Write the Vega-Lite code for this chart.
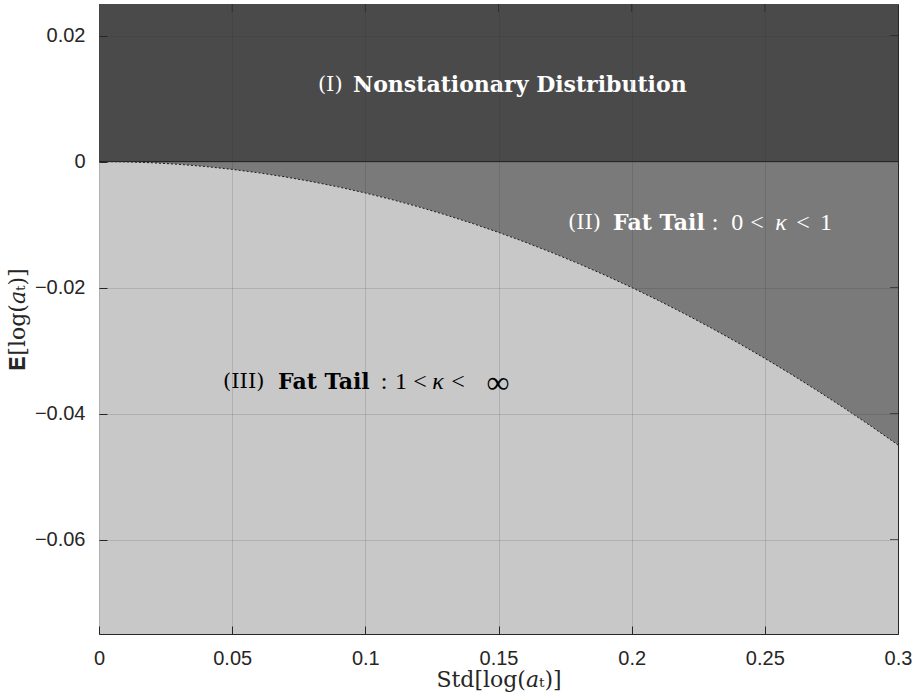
{
  "$schema": "https://vega.github.io/schema/vega-lite/v6.json",
  "width": 799,
  "height": 630,
  "autosize": "none",
  "padding": {"left": 99, "top": 4, "right": 19, "bottom": 64},
  "background": "white",
  "config": {
    "view": {"stroke": "#262626", "strokeWidth": 1},
    "axis": {
      "labelFont": "Liberation Sans",
      "labelFontSize": 20,
      "labelColor": "#262626",
      "titleFont": "DejaVu Serif",
      "titleFontWeight": "normal",
      "titleFontSize": 22,
      "titleColor": "#262626",
      "domain": false,
      "grid": true,
      "gridColor": "#262626",
      "gridOpacity": 0.15,
      "gridWidth": 1,
      "tickColor": "#262626",
      "tickSize": -8
    }
  },
  "datasets": {
    "boundary": [
      {"s": 0.00, "m": 0},
      {"s": 0.01, "m": -0.00005},
      {"s": 0.02, "m": -0.0002},
      {"s": 0.03, "m": -0.00045},
      {"s": 0.04, "m": -0.0008},
      {"s": 0.05, "m": -0.00125},
      {"s": 0.06, "m": -0.0018},
      {"s": 0.07, "m": -0.00245},
      {"s": 0.08, "m": -0.0032},
      {"s": 0.09, "m": -0.00405},
      {"s": 0.10, "m": -0.005},
      {"s": 0.11, "m": -0.00605},
      {"s": 0.12, "m": -0.0072},
      {"s": 0.13, "m": -0.00845},
      {"s": 0.14, "m": -0.0098},
      {"s": 0.15, "m": -0.01125},
      {"s": 0.16, "m": -0.0128},
      {"s": 0.17, "m": -0.01445},
      {"s": 0.18, "m": -0.0162},
      {"s": 0.19, "m": -0.01805},
      {"s": 0.20, "m": -0.02},
      {"s": 0.21, "m": -0.02205},
      {"s": 0.22, "m": -0.0242},
      {"s": 0.23, "m": -0.02645},
      {"s": 0.24, "m": -0.0288},
      {"s": 0.25, "m": -0.03125},
      {"s": 0.26, "m": -0.0338},
      {"s": 0.27, "m": -0.03645},
      {"s": 0.28, "m": -0.0392},
      {"s": 0.29, "m": -0.04205},
      {"s": 0.30, "m": -0.045}
    ],
    "romanText": [
      {"s": 0.0822, "m": 0.0121, "text": "(I)", "shade": "light"},
      {"s": 0.1761, "m": -0.0098, "text": "(II)", "shade": "light"},
      {"s": 0.0466, "m": -0.0350, "text": "(III)", "shade": "dark"}
    ],
    "mathText": [
      {"s": 0.2313, "m": -0.0098, "text": ":", "shade": "light"},
      {"s": 0.2396, "m": -0.0098, "text": "0", "shade": "light"},
      {"s": 0.2471, "m": -0.0098, "text": "<", "shade": "light"},
      {"s": 0.2643, "m": -0.0098, "text": "<", "shade": "light"},
      {"s": 0.2730, "m": -0.0098, "text": "1", "shade": "light"},
      {"s": 0.1070, "m": -0.0350, "text": ":", "shade": "dark"},
      {"s": 0.1134, "m": -0.0350, "text": "1", "shade": "dark"},
      {"s": 0.1205, "m": -0.0350, "text": "<", "shade": "dark"},
      {"s": 0.1348, "m": -0.0350, "text": "<", "shade": "dark"}
    ],
    "infinityText": [
      {"s": 0.1498, "m": -0.0350, "text": "∞", "shade": "dark"}
    ],
    "italicText": [
      {"s": 0.2561, "m": -0.0098, "text": "κ", "shade": "light"},
      {"s": 0.1273, "m": -0.0350, "text": "κ", "shade": "dark"}
    ],
    "boldText": [
      {"s": 0.0954, "m": 0.0121, "text": "Nonstationary Distribution", "shade": "light"},
      {"s": 0.1930, "m": -0.0098, "text": "Fat Tail", "shade": "light"},
      {"s": 0.0672, "m": -0.0350, "text": "Fat Tail", "shade": "dark"}
    ],
    "rightTicks": [
      {"s": 0.3, "m": -0.06},
      {"s": 0.3, "m": -0.04},
      {"s": 0.3, "m": -0.02},
      {"s": 0.3, "m": 0},
      {"s": 0.3, "m": 0.02}
    ],
    "topTicks": [
      {"s": 0.05, "m": 0.025},
      {"s": 0.10, "m": 0.025},
      {"s": 0.15, "m": 0.025},
      {"s": 0.20, "m": 0.025},
      {"s": 0.25, "m": 0.025}
    ]
  },
  "layer": [
    {
      "data": {"name": "boundary"},
      "mark": {"type": "area", "color": "#c8c8c8", "clip": true},
      "encoding": {
        "x": {
          "field": "s", "type": "quantitative",
          "scale": {"domain": [0, 0.3], "nice": false},
          "axis": {
            "title": "Std[log(𝑎ₜ)]",
            "values": [0, 0.05, 0.1, 0.15, 0.2, 0.25, 0.3],
            "format": ".2~f",
            "labelPadding": 22,
            "titlePadding": 1,
            "labelFlush": false,
            "grid": true,
            "zindex": 1
          }
        },
        "y": {
          "field": "m", "type": "quantitative",
          "scale": {"domain": [-0.075, 0.025], "nice": false, "zero": false},
          "axis": {
            "title": "𝐄[log(𝑎ₜ)]",
            "values": [-0.06, -0.04, -0.02, 0, 0.02],
            "format": ".2~f",
            "labelPadding": 22,
            "titlePadding": 5,
            "grid": true,
            "zindex": 1
          }
        },
        "y2": {"datum": -0.075}
      }
    },
    {
      "data": {"name": "boundary"},
      "mark": {"type": "area", "color": "#7a7a7a", "clip": true},
      "encoding": {
        "x": {"field": "s", "type": "quantitative"},
        "y": {"field": "m", "type": "quantitative"},
        "y2": {"datum": 0}
      }
    },
    {
      "data": {"name": "boundary"},
      "mark": {"type": "area", "color": "#4a4a4a", "clip": true},
      "encoding": {
        "x": {"field": "s", "type": "quantitative"},
        "y": {"datum": 0},
        "y2": {"datum": 0.025}
      }
    },
    {
      "data": {"name": "boundary"},
      "mark": {"type": "line", "color": "#1a1a1a", "strokeWidth": 1, "strokeDash": [2, 2], "clip": true},
      "encoding": {
        "x": {"field": "s", "type": "quantitative"},
        "y": {"field": "m", "type": "quantitative"}
      }
    },
    {
      "data": {"name": "boundary"},
      "mark": {"type": "rule", "color": "#262626", "strokeWidth": 1},
      "encoding": {
        "y": {"datum": 0}
      }
    },
    {
      "data": {"name": "rightTicks"},
      "mark": {"type": "tick", "orient": "horizontal", "color": "#262626", "size": 16, "thickness": 1, "clip": true},
      "encoding": {
        "x": {"field": "s", "type": "quantitative"},
        "y": {"field": "m", "type": "quantitative"}
      }
    },
    {
      "data": {"name": "topTicks"},
      "mark": {"type": "tick", "orient": "vertical", "color": "#262626", "size": 16, "thickness": 1, "clip": true},
      "encoding": {
        "x": {"field": "s", "type": "quantitative"},
        "y": {"field": "m", "type": "quantitative"}
      }
    },
    {
      "data": {"name": "romanText"},
      "mark": {"type": "text", "font": "DejaVu Serif", "fontSize": 21, "align": "left", "baseline": "middle"},
      "encoding": {
        "x": {"field": "s", "type": "quantitative"},
        "y": {"field": "m", "type": "quantitative"},
        "text": {"field": "text"},
        "color": {"field": "shade", "type": "nominal", "scale": {"domain": ["light", "dark"], "range": ["#ffffff", "#000000"]}, "legend": null}
      }
    },
    {
      "data": {"name": "mathText"},
      "mark": {"type": "text", "font": "Liberation Serif", "fontSize": 24, "align": "center", "baseline": "middle"},
      "encoding": {
        "x": {"field": "s", "type": "quantitative"},
        "y": {"field": "m", "type": "quantitative"},
        "text": {"field": "text"},
        "color": {"field": "shade", "type": "nominal", "scale": {"domain": ["light", "dark"], "range": ["#ffffff", "#000000"]}, "legend": null}
      }
    },
    {
      "data": {"name": "infinityText"},
      "mark": {"type": "text", "font": "Liberation Serif", "fontSize": 32, "align": "center", "baseline": "middle", "dy": 1},
      "encoding": {
        "x": {"field": "s", "type": "quantitative"},
        "y": {"field": "m", "type": "quantitative"},
        "text": {"field": "text"},
        "color": {"field": "shade", "type": "nominal", "scale": {"domain": ["light", "dark"], "range": ["#ffffff", "#000000"]}, "legend": null}
      }
    },
    {
      "data": {"name": "italicText"},
      "mark": {"type": "text", "font": "Liberation Serif", "fontSize": 24, "fontStyle": "italic", "align": "center", "baseline": "middle"},
      "encoding": {
        "x": {"field": "s", "type": "quantitative"},
        "y": {"field": "m", "type": "quantitative"},
        "text": {"field": "text"},
        "color": {"field": "shade", "type": "nominal", "scale": {"domain": ["light", "dark"], "range": ["#ffffff", "#000000"]}, "legend": null}
      }
    },
    {
      "data": {"name": "boldText"},
      "mark": {"type": "text", "font": "DejaVu Serif", "fontSize": 22, "fontWeight": "bold", "align": "left", "baseline": "middle"},
      "encoding": {
        "x": {"field": "s", "type": "quantitative"},
        "y": {"field": "m", "type": "quantitative"},
        "text": {"field": "text"},
        "color": {"field": "shade", "type": "nominal", "scale": {"domain": ["light", "dark"], "range": ["#ffffff", "#000000"]}, "legend": null}
      }
    }
  ]
}
